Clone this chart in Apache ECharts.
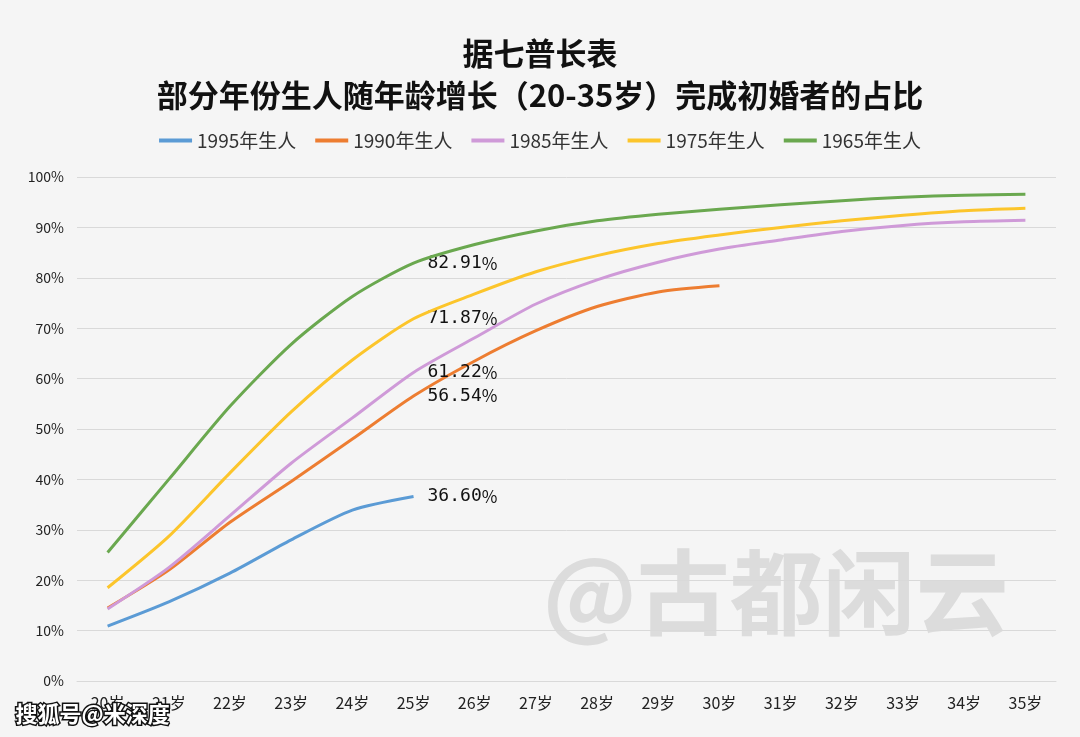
<!DOCTYPE html>
<html><head><meta charset="utf-8">
<script src="https://cdn.jsdelivr.net/npm/echarts@6/dist/echarts.min.js"></script>
<style>html,body{margin:0;padding:0;background:#f5f5f5}#c{width:1080px;height:737px}</style>
</head><body><div id="c"></div>
<script>
const categories = ['20岁','21岁','22岁','23岁','24岁','25岁','26岁','27岁','28岁','29岁','30岁','31岁','32岁','33岁','34岁','35岁'];
const s1995 = [10.9, 15.7, 21.4, 28.0, 33.9, 36.60];
const s1990 = [14.5, 22.0, 31.5, 39.6, 48.0, 56.54, 63.5, 69.5, 74.3, 77.2, 78.4];
const s1985 = [14.3, 22.5, 32.8, 43.2, 52.2, 61.22, 68.1, 74.8, 79.6, 83.1, 85.7, 87.5, 89.2, 90.4, 91.1, 91.4];
const s1975 = [18.5, 28.7, 41.3, 53.4, 63.7, 71.87, 76.8, 81.2, 84.4, 86.8, 88.5, 90.0, 91.3, 92.4, 93.3, 93.8];
const s1965 = [25.5, 40.0, 54.5, 66.8, 76.3, 82.91, 86.6, 89.3, 91.3, 92.6, 93.6, 94.5, 95.3, 96.0, 96.4, 96.6];
const seriesNames = ['1995年生人','1990年生人','1985年生人','1975年生人','1965年生人'];
const colors = ['#5b9bd5','#ed7d31','#cf9ad8','#fcc52b','#6aa84f'];
const labelIndex = 5;

const chart = echarts.init(document.getElementById('c'));
const data = [s1995, s1990, s1985, s1975, s1965];
const font = '"Noto Sans CJK SC","Noto Sans",sans-serif';
chart.setOption({
  backgroundColor: '#f5f5f5',
  color: colors,
  title: {
    text: '据七普长表\n部分年份生人随年龄增长（20-35岁）完成初婚者的占比',
    left: 'center', top: 27,
    textStyle: {fontSize: 31, fontWeight: 'bold', color: '#111', lineHeight: 42, fontFamily: font}
  },
  legend: {
    top: 126, left: 'center', itemWidth: 33, itemHeight: 4, itemGap: 19,
    icon: 'rect',
    textStyle: {fontSize: 19, color: '#333', fontFamily: font},
    data: seriesNames
  },
  grid: {left: 77, right: 24, top: 177, bottom: 56},
  xAxis: {
    type: 'category', data: categories, boundaryGap: true,
    axisLine: {lineStyle: {color: '#d9d9d9', width: 1}},
    axisTick: {show: false},
    axisLabel: {fontSize: 16, color: '#222', margin: 14, fontFamily: font}
  },
  yAxis: {
    type: 'value', min: 0, max: 100, interval: 10,
    axisLabel: {formatter: '{value}%', fontSize: 14, color: '#222', margin: 13, fontFamily: font},
    splitLine: {lineStyle: {color: '#d9d9d9', width: 1}},
    axisLine: {show: false}, axisTick: {show: false}
  },
  graphic: [
    {type: 'text', left: 543, top: 546, z: 0, silent: true,
     style: {text: '@古都闲云', fontSize: 93, fontWeight: 'bold', fill: '#dcdcdc', fontFamily: font}},
    {type: 'text', left: 14, top: 701, z: 100,
     style: {text: '搜狐号@米深度', fontSize: 22, fontWeight: 'bold', fill: '#fff', stroke: '#111', lineWidth: 3, fontFamily: font}}
  ],
  series: data.map((d, i) => ({
    name: seriesNames[i], type: 'line', data: d, smooth: 0.25,
    symbol: 'none', lineStyle: {width: 3}, z: 2 + i,
    markPoint: {
      symbol: 'circle', symbolSize: 0,
      data: [{coord: [labelIndex, d[labelIndex]], value: d[labelIndex]}],
      label: {show: true, position: 'right', distance: 14,
              formatter: p => '{n|' + p.value.toFixed(2) + '}{p|%}',
              rich: {
                n: {fontSize: 18, color: '#111', fontFamily: '"DejaVu Sans Mono",monospace'},
                p: {fontSize: 17, color: '#111', fontFamily: font}
              }}
    }
  }))
});
</script></body></html>
